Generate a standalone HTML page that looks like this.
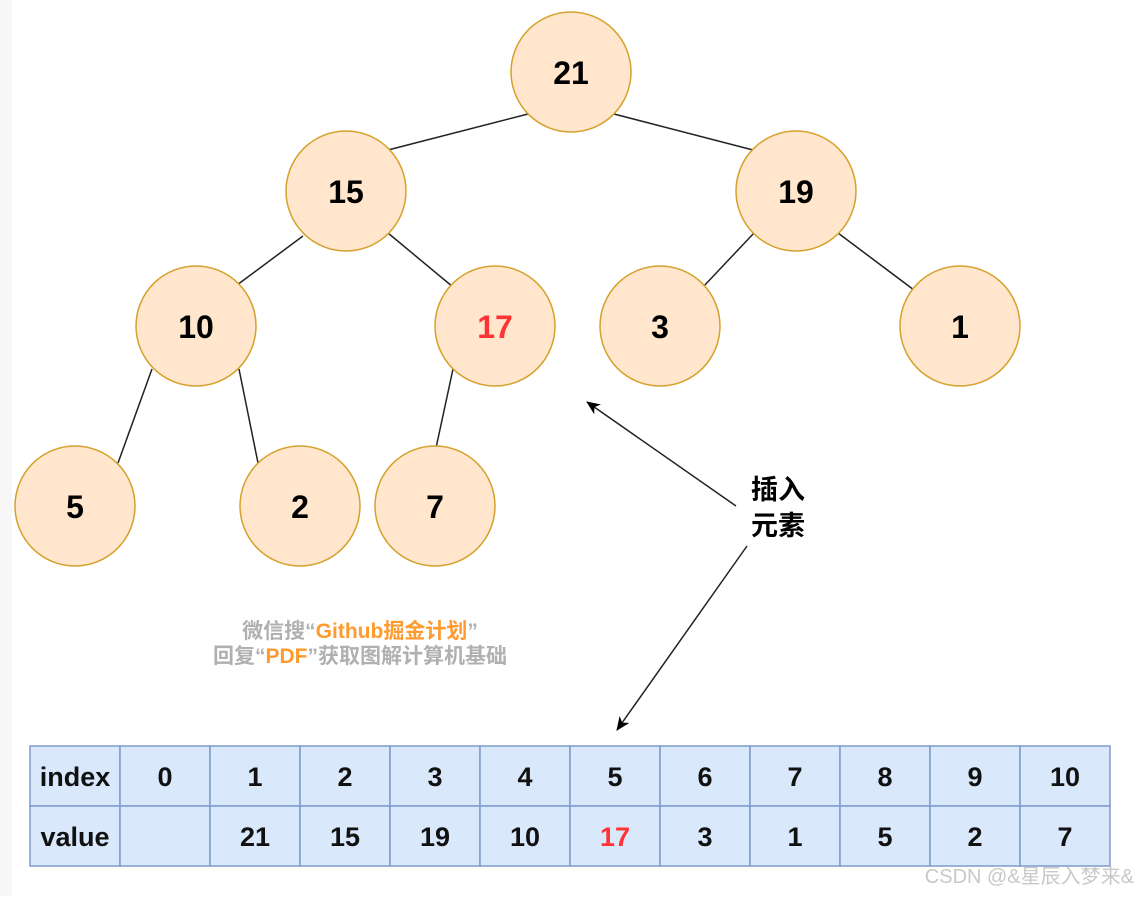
<!DOCTYPE html>
<html><head><meta charset="utf-8"><style>
body{margin:0;background:#fff;width:1137px;height:896px;overflow:hidden}
svg text{font-family:"Liberation Sans","Noto Sans CJK SC",sans-serif}
</style></head><body>
<svg width="1137" height="896" xmlns="http://www.w3.org/2000/svg">
<defs><marker id="a" markerWidth="14" markerHeight="12" refX="13" refY="6" orient="auto" markerUnits="userSpaceOnUse"><path d="M0,0 L14,6 L0,12 L4,6 z" fill="#000"/></marker></defs>
<rect x="0" y="0" width="12" height="896" fill="#f7f7f7"/>
<g stroke="#222" stroke-width="1.5">
<line x1="528" y1="114" x2="388" y2="150"/>
<line x1="614" y1="114" x2="753" y2="150"/>
<line x1="303" y1="236" x2="237" y2="285"/>
<line x1="388" y1="233" x2="453" y2="287"/>
<line x1="754" y1="233" x2="703" y2="287"/>
<line x1="838" y1="233" x2="914" y2="290"/>
<line x1="152" y1="369" x2="118" y2="463"/>
<line x1="239" y1="369" x2="258" y2="463"/>
<line x1="453" y1="369" x2="436" y2="448"/>
<line x1="736" y1="506" x2="587" y2="402" marker-end="url(#a)"/>
<line x1="747" y1="546" x2="617" y2="730" marker-end="url(#a)"/>
</g>
<g fill="#ffe6cc" stroke="#d6a12b" stroke-width="1.5">
<circle cx="571" cy="72" r="60"/><circle cx="346" cy="191" r="60"/><circle cx="796" cy="191" r="60"/>
<circle cx="196" cy="326" r="60"/><circle cx="495" cy="326" r="60"/><circle cx="660" cy="326" r="60"/><circle cx="960" cy="326" r="60"/>
<circle cx="75" cy="506" r="60"/><circle cx="300" cy="506" r="60"/><circle cx="435" cy="506" r="60"/>
</g>
<g font-size="32" font-weight="bold" text-anchor="middle" fill="#000">
<text x="571" y="84">21</text><text x="346" y="203">15</text><text x="796" y="203">19</text>
<text x="196" y="338">10</text><text x="495" y="338" fill="#ff3333">17</text><text x="660" y="338">3</text><text x="960" y="338">1</text>
<text x="75" y="518">5</text><text x="300" y="518">2</text><text x="435" y="518">7</text>
</g>
<g font-size="27" font-weight="bold" fill="#000"><text x="751" y="499">插入</text><text x="751" y="535">元素</text></g>
<g font-size="21" font-weight="bold" fill="#b0b0b0" text-anchor="middle">
<text x="360" y="638">微信搜“<tspan fill="#ff9a2e">Github掘金计划</tspan>”</text>
<text x="360" y="663">回复“<tspan fill="#ff9a2e">PDF</tspan>”获取图解计算机基础</text>
</g>
<g fill="#dae8fc" stroke="#7d9bcc" stroke-width="1.5">
<rect x="30" y="746" width="90" height="60"/><rect x="30" y="806" width="90" height="60"/>
<rect x="120" y="746" width="90" height="60"/><rect x="120" y="806" width="90" height="60"/>
<rect x="210" y="746" width="90" height="60"/><rect x="210" y="806" width="90" height="60"/>
<rect x="300" y="746" width="90" height="60"/><rect x="300" y="806" width="90" height="60"/>
<rect x="390" y="746" width="90" height="60"/><rect x="390" y="806" width="90" height="60"/>
<rect x="480" y="746" width="90" height="60"/><rect x="480" y="806" width="90" height="60"/>
<rect x="570" y="746" width="90" height="60"/><rect x="570" y="806" width="90" height="60"/>
<rect x="660" y="746" width="90" height="60"/><rect x="660" y="806" width="90" height="60"/>
<rect x="750" y="746" width="90" height="60"/><rect x="750" y="806" width="90" height="60"/>
<rect x="840" y="746" width="90" height="60"/><rect x="840" y="806" width="90" height="60"/>
<rect x="930" y="746" width="90" height="60"/><rect x="930" y="806" width="90" height="60"/>
<rect x="1020" y="746" width="90" height="60"/><rect x="1020" y="806" width="90" height="60"/>
</g>
<g font-size="27" font-weight="bold" fill="#111" text-anchor="middle">
<text x="75" y="786">index</text><text x="75" y="846">value</text>
<text x="165" y="786">0</text><text x="255" y="786">1</text><text x="345" y="786">2</text><text x="435" y="786">3</text><text x="525" y="786">4</text><text x="615" y="786">5</text><text x="705" y="786">6</text><text x="795" y="786">7</text><text x="885" y="786">8</text><text x="975" y="786">9</text><text x="1065" y="786">10</text>
<text x="255" y="846">21</text><text x="345" y="846">15</text><text x="435" y="846">19</text><text x="525" y="846">10</text><text x="615" y="846" fill="#ff3333">17</text><text x="705" y="846">3</text><text x="795" y="846">1</text><text x="885" y="846">5</text><text x="975" y="846">2</text><text x="1065" y="846">7</text>
</g>
<text x="1134" y="883" font-size="20" fill="#c8c8c8" text-anchor="end">CSDN @&amp;星辰入梦来&amp;</text>
</svg>
</body></html>
